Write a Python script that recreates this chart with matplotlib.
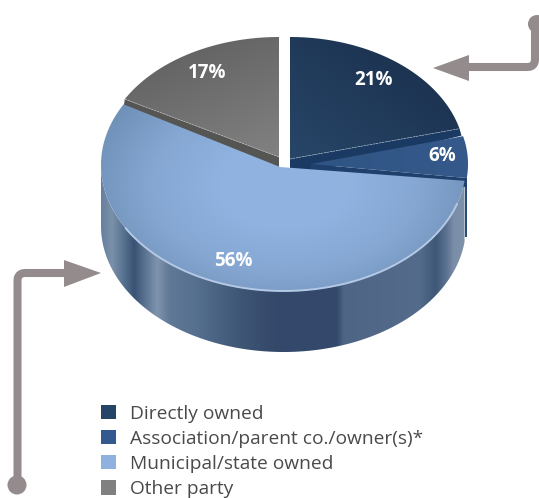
import numpy as np
import matplotlib
matplotlib.use("Agg")
import matplotlib.pyplot as plt
from matplotlib.colors import LinearSegmentedColormap
from matplotlib.patches import Patch, Polygon, Circle

# Ownership shares, in percent
categories = ["Directly owned", "Association/parent co./owner(s)*",
              "Municipal/state owned", "Other party"]
shares = [21, 6, 56, 17]
share_labels = ["21%", "6%", "56%", "17%"]
legend_colors = ["#264468", "#33598F", "#8FB1E0", "#808080"]

plt.rcParams["font.family"] = ["Open Sans", "DejaVu Sans"]

W, H = 539, 498
fig = plt.figure(figsize=(W / 100, H / 100), dpi=100)
ax = fig.add_axes([0, 0, 1, 1])
ax.set_xlim(0, W)
ax.set_ylim(H, 0)
ax.axis("off")

# Slice angles, clockwise from twelve o'clock
edges = 90 - np.cumsum([0] + shares) * 3.6
spans = list(zip(edges[:-1], edges[1:]))

# Per-slice geometry: apex, ellipse centre, radii
GEOM = [
    dict(apex=(290, 159), c=(290, 159), r=(175, 122)),
    dict(apex=(311, 164), c=(311, 164), r=(157, 112)),
    dict(apex=(280, 167), c=(283.5, 165), r=(182.5, 126)),
    dict(apex=(279, 157), c=(279, 157), r=(176, 120)),
]
DEPTH = 61


def arc(g, a0, a1, n=160):
    t = np.radians(np.linspace(a0, a1, n))
    return np.column_stack([g["c"][0] + g["r"][0] * np.cos(t),
                            g["c"][1] - g["r"][1] * np.sin(t)])


def wedge_pts(g, a0, a1):
    return np.vstack([[g["apex"]], arc(g, a0, a1)])


def fill_clipped(pts, rgba, extent, z):
    """Paint a gradient array inside a polygon."""
    poly = Polygon(pts, closed=True, fc="none", ec="none",
                   transform=ax.transData)
    ax.add_patch(poly)
    im = ax.imshow(rgba, extent=extent, aspect="auto", zorder=z,
                   interpolation="bilinear")
    im.set_clip_path(poly)
    return im


def ramp(colors):
    return LinearSegmentedColormap.from_list("r", colors)


def linear(colors, p0, p1, n=260):
    xx, yy = np.meshgrid(np.linspace(0, W, n * 2), np.linspace(0, H, n * 2))
    d = np.array(p1, float) - p0
    u = ((xx - p0[0]) * d[0] + (yy - p0[1]) * d[1]) / (d @ d)
    return ramp(colors)(np.clip(u, 0, 1))


def connector(points, radius=8):
    """Polyline with rounded corners, drawn as a single stroke."""
    pts = np.array(points, float)
    out = [pts[0]]
    for a, b, c in zip(pts[:-2], pts[1:-1], pts[2:]):
        ua = (a - b) / np.linalg.norm(a - b)
        uc = (c - b) / np.linalg.norm(c - b)
        s = np.linspace(0, 1, 14)[:, None]
        p0, p1 = b + ua * radius, b + uc * radius
        out.extend((1 - s) ** 2 * p0 + 2 * s * (1 - s) * b + s ** 2 * p1)
    out.append(pts[-1])
    out = np.array(out)
    ax.plot(out[:, 0], out[:, 1], color=ARROW, lw=5.8, solid_capstyle="butt",
            solid_joinstyle="round", zorder=7)


FULL = (0, W, H, 0)

# Outer wall of the municipal slice, with its vertical sheen bands
light = GEOM[2]
rim = arc(light, spans[2][0], -180)
wall = np.vstack([rim, (rim + [0, DEPTH])[::-1]])
stops = [(101, "#66809E"), (112, "#7C90A9"), (124, "#54708F"), (134, "#3A5273"),
         (146, "#5E7794"), (157, "#7F93AD"), (170, "#5F7896"), (195, "#56708F"),
         (240, "#3F5675"), (277, "#34486A"), (337, "#33496B"), (344, "#4F6585"),
         (420, "#546B8B"), (436, "#3E5878"), (447, "#5C7391"), (454, "#7B8EA8"),
         (467, "#7F92AA")]
span_x = stops[-1][0] - stops[0][0]
wall_cmap = LinearSegmentedColormap.from_list(
    "wall", [((x - stops[0][0]) / span_x, c) for x, c in stops], N=512)
wall_rgba = wall_cmap(np.linspace(0, 1, 512))[None, :, :]
fill_clipped(wall, wall_rgba, (stops[0][0], stops[-1][0], 360, 140), 1)

# Other party: cut face, then top
g = GEOM[3]
a0, a1 = spans[3]
end = arc(g, a0, a0, 1)[0]
ax.add_patch(Polygon([g["apex"], end, end + [-1, 7], (g["apex"][0], g["apex"][1] + 14)],
                     fc="#555653", ec="none", zorder=2))
fill_clipped(wedge_pts(g, a0, a1),
             linear(["#818281", "#646464"], (275, 160), (225, 35)), FULL, 3)
ax.plot([g["apex"][0], end[0]], [g["apex"][1], end[1]], color="#B8B8B8",
        lw=0.5, ls=(0, (3, 1.5)), zorder=4)

# Directly owned: cut face, then top
g = GEOM[0]
a0, a1 = spans[0]
end = arc(g, a1, a1, 1)[0]
ax.add_patch(Polygon([g["apex"], end, end + [2, 7], (312, 172), (290, 172)],
                     fc="#1B3A63", ec="none", zorder=2))
fill_clipped(wedge_pts(g, a0, a1),
             linear(["#274567", "#1C3250"], (310, 165), (400, 45)), FULL, 3)
ax.plot([g["apex"][0], end[0]], [g["apex"][1], end[1]], color="#9FB0C4",
        lw=0.5, ls=(0, (3, 1.5)), zorder=4)

# Association slice: cut face, edge sliver, top
g = GEOM[1]
a0, a1 = spans[1]
end = arc(g, a1, a1, 1)[0]
ax.add_patch(Polygon([g["apex"], end, end + [0, 9], (g["apex"][0], g["apex"][1] + 10)],
                     fc="#1F3F6C", ec="none", zorder=2.5))
ax.add_patch(Polygon([end, end + [0, 59], end + [-1.5, 59], end + [-1.5, 0]],
                     fc="#274B7A", ec="none", zorder=2))
fill_clipped(wedge_pts(g, a0, a1),
             linear(["#2F5585", "#34598A"], (311, 160), (468, 160)), FULL, 3.5)

# Municipal slice: soft radial top and pale rim
xx, yy = np.meshgrid(np.linspace(0, W, 540), np.linspace(0, H, 500))
dist = np.hypot((xx - 285) / 190, (yy - 185) / 125)
top_rgba = ramp(["#90B2E0", "#90B2E0", "#85A7D2", "#7091B8"])(np.clip(dist / 1.05, 0, 1))
a0, a1 = spans[2]
fill_clipped(wedge_pts(light, a0, a1), top_rgba, FULL, 5)
low = arc(light, -150, -18)
ax.plot(low[:, 0], low[:, 1], color="#B4C9E6", lw=1.4, zorder=6,
        solid_capstyle="round")

# Percentage labels
label_xy = [(374, 80), (442, 156), (233, 261), (207, 73)]
for txt, (x, y) in zip(share_labels, label_xy):
    ax.text(x, y, txt, color="white", fontsize=13.5, fontweight="bold",
            ha="center", va="center", zorder=8)

# Callout connectors
ARROW = "#948B8C"
connector([(535, 24), (535, 67), (468, 67)])
ax.add_patch(Polygon([(433, 68), (469, 55), (469, 81)], fc=ARROW, ec="none", zorder=7))
ax.add_patch(Circle((537, 24), 9, fc=ARROW, ec="none", zorder=7))

connector([(17.5, 485), (17.5, 273), (66, 273)])
ax.add_patch(Polygon([(101, 273), (64, 260), (64, 287)], fc=ARROW, ec="none", zorder=7))
ax.add_patch(Circle((17, 485), 9.5, fc=ARROW, ec="none", zorder=7))

# Legend
handles = [Patch(fc=c, ec="none") for c in legend_colors]
leg = ax.legend(handles, categories, loc="upper left",
                bbox_to_anchor=(99.5 / W, 1 - 403 / H), frameon=False,
                fontsize=13.8, labelcolor="#4A4A4A", handlelength=0.75,
                handleheight=0.75, handletextpad=0.72, labelspacing=0.37,
                borderpad=0.1, borderaxespad=0)
leg.set_zorder(9)

ax.set_xlim(0, W)
ax.set_ylim(H, 0)
fig.savefig("out.png", dpi=100)
